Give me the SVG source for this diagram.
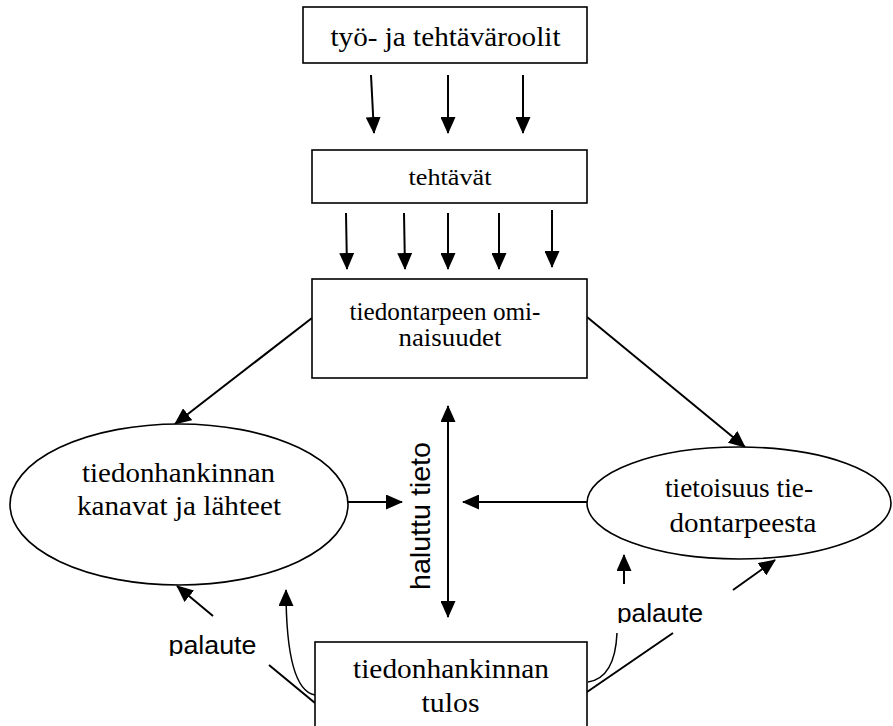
<svg xmlns="http://www.w3.org/2000/svg" width="893" height="726" viewBox="0 0 893 726">
<style>
.box{fill:#fff;stroke:#000;stroke-width:1.6}
.ell{fill:#fff;stroke:#000;stroke-width:1.6}
.t{font-family:"Liberation Serif","Times New Roman",serif;fill:#000;text-anchor:middle}
.s{font-family:"Liberation Sans",Arial,sans-serif;fill:#000;text-anchor:middle}
.ln{fill:none;stroke:#000;stroke-width:2}
.ar{fill:none;stroke:#000;stroke-width:2;marker-end:url(#ah)}
.thin{fill:none;stroke:#000;stroke-width:1.5}
</style>
<defs>
<marker id="ah" viewBox="0 0 17 15" refX="16" refY="7.5" markerWidth="17" markerHeight="15" markerUnits="userSpaceOnUse" orient="auto-start-reverse">
<path d="M0,0 L17,7.5 L0,15 z" fill="#000"/>
</marker>
<clipPath id="clipL"><rect x="150" y="620" width="130" height="36"/></clipPath>
<clipPath id="clipR"><rect x="600" y="590" width="130" height="33"/></clipPath>
</defs>

<g id="connectors">
<path class="ar" d="M371,75 L374,133"/>
<path class="ar" d="M448,75 L448,133"/>
<path class="ar" d="M523,75 L523,133"/>
<path class="ar" d="M346,213 L347,269"/>
<path class="ar" d="M404,213 L405,269"/>
<path class="ar" d="M448,213 L448,269"/>
<path class="ar" d="M499,213 L499,269"/>
<path class="ar" d="M552,210 L552,267"/>
<path class="ar" d="M312,318 L175,424"/>
<path class="ar" d="M587,317 L745,447"/>
<path class="ar" d="M347,502 L402,502"/>
<path class="ar" d="M587,502 L463,502"/>
<path class="ar" d="M448,617 L448,406" style="marker-start:url(#ah)"/>
<path class="ln" d="M315,703 L269,665"/>
<path class="ar" d="M213,616 L177,586"/>
<path class="thin" d="M315,695 Q286,690 286,590" style="marker-end:url(#ah)"/>
<path class="thin" d="M588,682 Q615,678 617,633"/>
<path class="ar" d="M624,584 L624,555"/>
<path class="ln" d="M587,692 L673,633"/>
<path class="ar" d="M733,590 L775,560"/>
</g>

<g id="n1">
<rect class="box" x="303" y="7" width="284" height="56"/>
<text class="t" x="445.5" y="46" font-size="27" textLength="230" lengthAdjust="spacingAndGlyphs">työ- ja tehtäväroolit</text>
</g>
<g id="n2">
<rect class="box" x="312" y="150" width="275" height="53"/>
<text class="t" x="450" y="185" font-size="24" textLength="83" lengthAdjust="spacingAndGlyphs">tehtävät</text>
</g>
<g id="n3">
<rect class="box" x="312" y="279" width="275" height="99"/>
<text class="t" x="445" y="320" font-size="25" textLength="191" lengthAdjust="spacingAndGlyphs">tiedontarpeen omi-</text>
<text class="t" x="450" y="346" font-size="25" textLength="103" lengthAdjust="spacingAndGlyphs">naisuudet</text>
</g>
<g id="n4">
<ellipse class="ell" cx="179" cy="504.5" rx="169" ry="80.5"/>
<text class="t" x="178.5" y="482" font-size="27" textLength="193" lengthAdjust="spacingAndGlyphs">tiedonhankinnan</text>
<text class="t" x="179" y="515" font-size="27" textLength="204" lengthAdjust="spacingAndGlyphs">kanavat ja lähteet</text>
</g>
<g id="n5">
<ellipse class="ell" cx="739" cy="503" rx="152" ry="56"/>
<text class="t" x="739" y="497" font-size="27" textLength="148" lengthAdjust="spacingAndGlyphs">tietoisuus tie-</text>
<text class="t" x="743" y="531.5" font-size="27" textLength="147" lengthAdjust="spacingAndGlyphs">dontarpeesta</text>
</g>
<g id="n6">
<rect class="box" x="315" y="642" width="272" height="100"/>
<text class="t" x="451" y="678" font-size="27" textLength="196" lengthAdjust="spacingAndGlyphs">tiedonhankinnan</text>
<text class="t" x="450.5" y="712" font-size="27" textLength="58" lengthAdjust="spacingAndGlyphs">tulos</text>
</g>
<g id="labels">
<text class="s" transform="translate(430,516) rotate(-90)" font-size="28" textLength="148" lengthAdjust="spacingAndGlyphs">haluttu tieto</text>
<text class="s" x="212.5" y="654" font-size="25" textLength="88" lengthAdjust="spacingAndGlyphs" clip-path="url(#clipL)">palaute</text>
<text class="s" x="660" y="622" font-size="25" textLength="86" lengthAdjust="spacingAndGlyphs" clip-path="url(#clipR)">palaute</text>
</g>
</svg>
